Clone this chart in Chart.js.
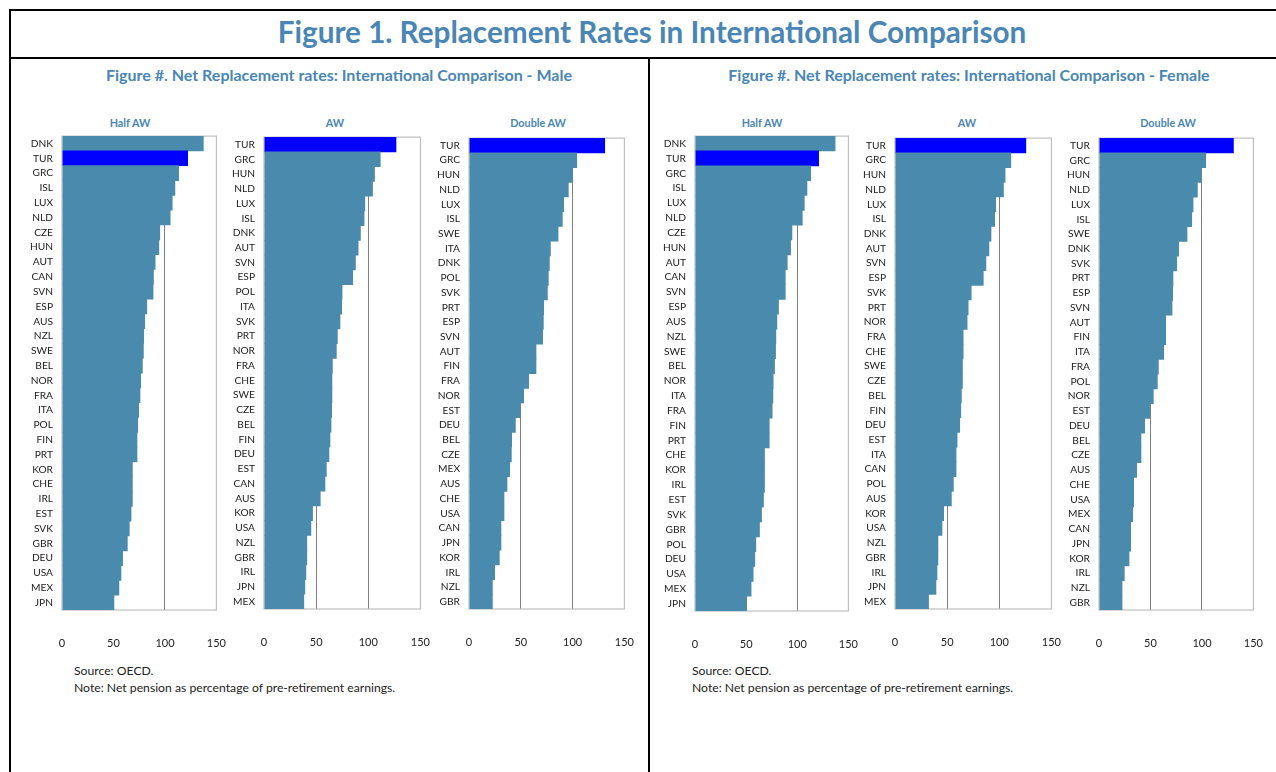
<!DOCTYPE html>
<html>
<head>
<meta charset="utf-8">
<script src="https://cdn.jsdelivr.net/npm/chart.js@4.4.1/dist/chart.umd.min.js"></script>
<style>
  html, body { margin:0; padding:0; background:#fff; }
  body { width:1276px; height:772px; position:relative; overflow:hidden; font-family: Lato, "Open Sans", sans-serif; }
  .line { position:absolute; background:#000; }
  .title { position:absolute; left:0; width:1304px; top:14px; text-align:center; font-weight:700; font-size:29.7px; line-height:36px; color:#4A86B5; white-space:nowrap; }
  .sub { position:absolute; font-weight:700; font-size:16px; line-height:20px; color:#4A86B5; white-space:nowrap; transform:translateX(-50%); }
  .ptitle { position:absolute; font-weight:700; font-size:10.8px; line-height:13px; color:#4A86B5; white-space:nowrap; transform:translateX(-50%); }
  .note { position:absolute; font-size:12.2px; color:#222; white-space:nowrap; line-height:17px; }
  canvas { position:absolute; }
</style>
</head>
<body>
<div class="line" style="left:9px; top:9px; width:1280px; height:2px;"></div>
<div class="line" style="left:9px; top:9px; width:2px; height:780px;"></div>
<div class="line" style="left:9px; top:57px; width:1280px; height:2px;"></div>
<div class="line" style="left:648px; top:57px; width:2px; height:730px;"></div>

<div class="title">Figure 1. Replacement Rates in International Comparison</div>
<div class="sub" style="left:339px; top:65px;">Figure #. Net Replacement rates: International Comparison - Male</div>
<div class="sub" style="left:969px; top:65px;">Figure #. Net Replacement rates: International Comparison - Female</div>

<div class="ptitle" style="left:130px; top:116px;">Half AW</div>
<div class="ptitle" style="left:335px; top:116px;">AW</div>
<div class="ptitle" style="left:538px; top:116px;">Double AW</div>
<div class="ptitle" style="left:762px; top:116px;">Half AW</div>
<div class="ptitle" style="left:967px; top:116px;">AW</div>
<div class="ptitle" style="left:1168px; top:116px;">Double AW</div>

<div class="note" style="left:74px; top:662px;">Source: OECD.<br>Note: Net pension as percentage of pre-retirement earnings.</div>
<div class="note" style="left:692px; top:662px;">Source: OECD.<br>Note: Net pension as percentage of pre-retirement earnings.</div>

<script>
// ---------------- DATA ----------------
const xTickValues = [0, 50, 100, 150];

const maleHalfCats = ["DNK","TUR","GRC","ISL","LUX","NLD","CZE","HUN","AUT","CAN","SVN","ESP","AUS","NZL","SWE","BEL","NOR","FRA","ITA","POL","FIN","PRT","KOR","CHE","IRL","EST","SVK","GBR","DEU","USA","MEX","JPN"];
const maleHalfVals = [137.6,122.4,113.6,110.0,107.4,105.4,95.3,94.4,90.8,89.2,88.8,82.7,80.7,79.7,79.4,78.4,76.8,76.1,74.8,73.9,73.2,73.2,68.7,68.7,68.7,67.4,65.7,63.8,59.2,57.6,55.6,50.8];

const maleAwCats = ["TUR","GRC","HUN","NLD","LUX","ISL","DNK","AUT","SVN","ESP","POL","ITA","SVK","PRT","NOR","FRA","CHE","SWE","CZE","BEL","FIN","DEU","EST","CAN","AUS","KOR","USA","NZL","GBR","IRL","JPN","MEX"];
const maleAwVals = [126.9,111.8,106.3,104.4,97.0,96.3,92.8,90.6,88.0,85.4,75.2,74.8,73.2,70.7,69.7,65.9,65.5,65.5,65.2,64.6,63.6,62.6,60.1,58.8,54.3,46.9,45.3,41.4,41.4,40.5,39.5,38.5];

const maleDoubleCats = ["TUR","GRC","HUN","NLD","LUX","ISL","SWE","ITA","DNK","POL","SVK","PRT","ESP","SVN","AUT","FIN","FRA","NOR","EST","DEU","BEL","CZE","MEX","AUS","CHE","USA","CAN","JPN","KOR","IRL","NZL","GBR"];
const maleDoubleVals = [131.3,104.3,100.1,96.2,91.7,90.4,86.3,78.9,77.9,76.9,76.0,72.4,72.1,71.4,65.0,65.0,57.9,53.1,49.6,45.1,41.5,41.2,39.6,37.0,34.1,34.1,31.2,31.2,29.6,25.1,22.9,22.9];

const femaleHalfCats = ["DNK","TUR","GRC","ISL","LUX","NLD","CZE","HUN","AUT","CAN","SVN","ESP","AUS","NZL","SWE","BEL","NOR","ITA","FRA","FIN","PRT","CHE","KOR","IRL","EST","SVK","GBR","POL","DEU","USA","MEX","JPN"];
const femaleHalfVals = [137.3,121.2,113.4,109.8,107.2,105.2,95.1,93.8,90.5,88.6,88.6,82.0,80.4,79.4,79.1,78.1,76.8,76.5,75.8,72.9,72.9,68.3,68.3,68.3,67.3,65.4,63.4,59.8,58.8,57.2,55.2,50.7];

const femaleAwCats = ["TUR","GRC","HUN","NLD","LUX","ISL","DNK","AUT","SVN","ESP","SVK","PRT","NOR","FRA","CHE","SWE","CZE","BEL","FIN","DEU","EST","ITA","CAN","POL","AUS","KOR","USA","NZL","GBR","IRL","JPN","MEX"];
const femaleAwVals = [125.8,111.4,105.9,104.3,96.9,95.9,92.4,90.4,87.5,85.0,73.4,70.5,69.5,65.7,65.7,65.0,65.0,64.0,63.4,62.4,59.9,58.9,58.9,56.3,54.4,47.0,45.4,41.5,41.5,40.6,39.6,32.5];

const femaleDoubleCats = ["TUR","GRC","HUN","NLD","LUX","ISL","SWE","DNK","SVK","PRT","ESP","SVN","AUT","FIN","ITA","FRA","POL","NOR","EST","DEU","BEL","CZE","AUS","CHE","USA","MEX","CAN","JPN","KOR","IRL","NZL","GBR"];
const femaleDoubleVals = [130.9,104.0,99.5,95.9,91.7,90.4,85.8,77.7,75.8,72.2,71.9,71.3,65.1,65.1,63.2,58.0,57.0,53.1,49.6,44.7,41.1,41.1,36.9,34.0,34.0,33.0,31.1,31.1,29.5,24.9,22.7,22.7];

// --------------- STYLE / LAYOUT ---------------
const BAR = '#4A8BAD';
const HIGHLIGHT = '#0000FF';
const highlightCat = 'TUR';
const Y_AXIS_W = 50, X_AXIS_H = 46;

const panels = [
  { cats:maleHalfCats,    vals:maleHalfVals,    plot:{l:62,  r:216,  t:136, b:610} },
  { cats:maleAwCats,      vals:maleAwVals,      plot:{l:264, r:420,  t:137, b:609} },
  { cats:maleDoubleCats,  vals:maleDoubleVals,  plot:{l:469, r:624,  t:138, b:609} },
  { cats:femaleHalfCats,  vals:femaleHalfVals,  plot:{l:695, r:848,  t:136, b:611} },
  { cats:femaleAwCats,    vals:femaleAwVals,    plot:{l:895, r:1051, t:138, b:609} },
  { cats:femaleDoubleCats,vals:femaleDoubleVals,plot:{l:1099,r:1253, t:138, b:610} },
];

const framePlugin = {
  id:'frame',
  beforeDatasetsDraw(chart) {
    const {ctx, chartArea:a} = chart;
    ctx.save();
    ctx.strokeStyle = '#BFBFBF';
    ctx.lineWidth = 1.2;
    ctx.strokeRect(a.left, a.top, a.right - a.left, a.bottom - a.top);
    ctx.restore();
  }
};

function build(p, g) {
  const cv = document.createElement('canvas');
  cv.width = g.w; cv.height = g.h;
  cv.style.left = g.left + 'px';
  cv.style.top = g.top + 'px';
  cv.style.width = g.w + 'px'; cv.style.height = g.h + 'px';
  document.body.appendChild(cv);
  const chart = new Chart(cv, {
    type:'bar',
    data:{
      labels:p.cats,
      datasets:[{
        data:p.vals,
        backgroundColor:p.cats.map(c => c === highlightCat ? HIGHLIGHT : BAR),
        borderWidth:0,
        barPercentage:1.05,
        categoryPercentage:1.0
      }]
    },
    options:{
      indexAxis:'y',
      responsive:false,
      maintainAspectRatio:false,
      animation:false,
      devicePixelRatio:1,
      layout:{ padding:0 },
      plugins:{ legend:{display:false}, tooltip:{enabled:false}, title:{display:false} },
      scales:{
        x:{
          type:'linear', min:0, max:150,
          afterBuildTicks(scale){ scale.ticks = xTickValues.map(v => ({value:v})); },
          afterFit(scale){ scale.height = X_AXIS_H; },
          grid:{
            drawTicks:false,
            color(ctx){ const v = ctx.tick && ctx.tick.value; return (v === 50 || v === 100) ? '#7F7F7F' : 'rgba(0,0,0,0)'; },
            lineWidth:1
          },
          border:{ display:false },
          ticks:{ padding:27, color:'#222', font:{ family:'Lato', size:11 }, maxRotation:0 }
        },
        y:{
          afterFit(scale){ scale.width = Y_AXIS_W; },
          grid:{ display:false, drawTicks:false },
          border:{ display:false },
          ticks:{ padding:9, color:'#222', font:{ family:'Lato', size:10.2 }, autoSkip:false }
        }
      }
    },
    plugins:[framePlugin]
  });
  return {chart, cv};
}

panels.forEach(p => {
  const P = p.plot;
  let g = { left:P.l - Y_AXIS_W, top:P.t - 20, w:Y_AXIS_W + (P.r - P.l) + 40, h:(P.b - P.t) + 20 + X_AXIS_H };
  let res = null;
  for (let i = 0; i < 4; i++) {
    res = build(p, g);
    const a = res.chart.chartArea;
    const dl = P.l - (g.left + a.left), dr = P.r - (g.left + a.right);
    const dt = P.t - (g.top + a.top),   db = P.b - (g.top + a.bottom);
    if (Math.abs(dl) < 0.5 && Math.abs(dr) < 0.5 && Math.abs(dt) < 0.5 && Math.abs(db) < 0.5) break;
    if (i === 3) break;
    res.chart.destroy(); res.cv.remove();
    g = { left:g.left + dl, top:g.top + dt, w:g.w + dr - dl, h:g.h + db - dt };
  }
});
</script>
</body>
</html>
